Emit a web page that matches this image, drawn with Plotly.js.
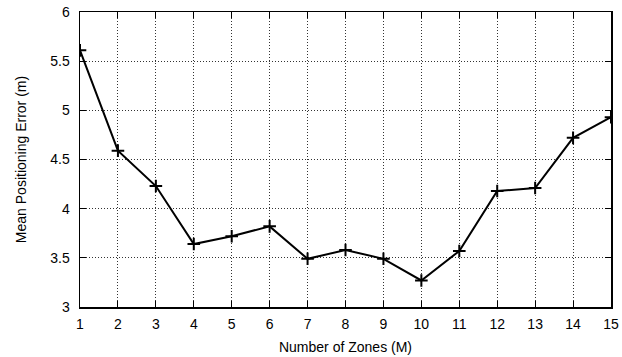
<!DOCTYPE html>
<html>
<head>
<meta charset="utf-8">
<script src="https://cdn.plot.ly/plotly-3.0.1.min.js"></script>
<style>html,body{margin:0;padding:0;background:#fff;}#chart{width:622px;height:357px;}</style>
</head>
<body>
<div id="chart"></div>
<script>
const zones = [1,2,3,4,5,6,7,8,9,10,11,12,13,14,15];
const meanError = [5.61,4.59,4.23,3.64,3.72,3.82,3.49,3.58,3.49,3.27,3.57,4.18,4.21,4.72,4.93];
const xTickVals = [1,2,3,4,5,6,7,8,9,10,11,12,13,14,15];
const yTickVals = [3,3.5,4,4.5,5,5.5,6];
const yTickText = ["3","3.5","4","4.5","5","5.5","6"];

const font = {family: "Liberation Sans, Arial, sans-serif", size: 14, color: "#000"};
const axisCommon = {
  showline: true, linecolor: "#000", linewidth: 1.5, mirror: "ticks",
  ticks: "inside", ticklen: 6, tickwidth: 1, tickcolor: "#000",
  showgrid: true, gridcolor: "#333", griddash: "1px,2px", gridwidth: 1,
  zeroline: false, tickfont: font
};
Plotly.newPlot("chart", [{
  x: zones, y: meanError, type: "scatter", mode: "lines+markers",
  line: {color: "#000", width: 2},
  marker: {symbol: "cross-thin-open", size: 9, color: "#000", line: {color: "#000", width: 2}},
  showlegend: false
}], {
  width: 622, height: 357,
  margin: {l: 80, r: 11, t: 12, b: 50},
  paper_bgcolor: "#fff", plot_bgcolor: "#fff",
  font: font,
  xaxis: Object.assign({}, axisCommon, {
    range: [1, 15], tickvals: xTickVals, ticklabelstandoff: 4,
    title: {text: "Number of Zones (M)", font: font, standoff: 11}
  }),
  yaxis: Object.assign({}, axisCommon, {
    range: [3, 6], tickvals: yTickVals, ticktext: yTickText, ticklabelstandoff: 6,
    title: {text: "Mean Positioning Error (m)", font: font, standoff: 20}
  })
}, {displayModeBar: false, staticPlot: true});
</script>
</body>
</html>
